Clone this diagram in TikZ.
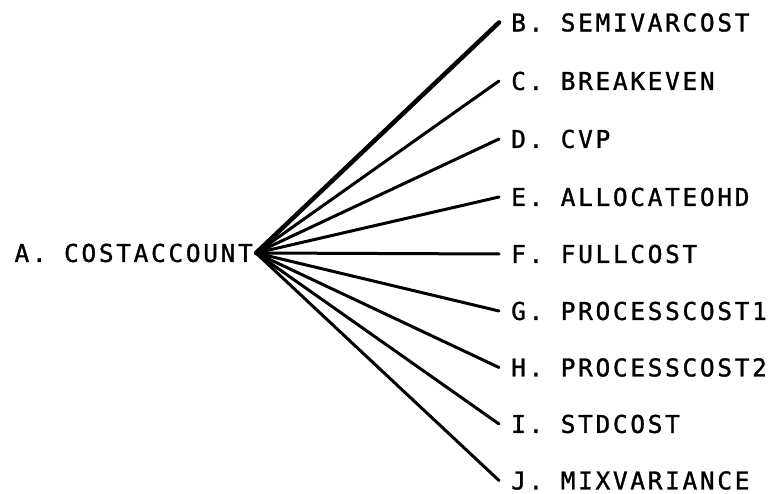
\documentclass[tikz,border=0pt]{standalone}
\usepackage{fontspec}
\newfontfamily\printfont[LetterSpace=10.8,FakeBold=1.2]{DejaVu Sans Mono}
\begin{document}
\begin{tikzpicture}[x=1pt,y=-1pt,
  lbl/.style={font=\printfont\fontsize{24.5}{24.5}\selectfont, inner ysep=0pt,
    text height=17.8pt, text depth=0pt},
  leaf/.style={lbl, anchor=west, inner xsep=12pt},
  spoke/.style={line width=3pt, line cap=round, line join=round},
  thick spoke/.style={line width=4.5pt, line cap=round, line join=round}]
\useasboundingbox (0,0) rectangle (771,494);
\fill[white] (0,0) rectangle (771,494);

% root of the fan
\node[lbl, anchor=east, inner xsep=3pt] (A) at (256,253) {A. COSTACCOUNT};

% leaves, evenly spaced down the right side
\node[leaf] (B) at (499,22.5)  {B. SEMIVARCOST};
\node[leaf] (C) at (499,81)    {C. BREAKEVEN};
\node[leaf] (D) at (499,139)   {D. CVP};
\node[leaf] (E) at (499,197)   {E. ALLOCATEOHD};
\node[leaf] (F) at (499,254)   {F. FULLCOST};
\node[leaf] (G) at (499,311)   {G. PROCESSCOST1};
\node[leaf] (H) at (499,367.5) {H. PROCESSCOST2};
\node[leaf] (I) at (499,424)   {I. STDCOST};
\node[leaf] (J) at (499,480.5) {J. MIXVARIANCE};

% spokes from the root to each leaf
\draw[thick spoke] (A.east) -- (B.west);
\foreach \n in {C,D,E,F,G,H,I,J}
  \draw[spoke] (A.east) -- (\n.west);
\end{tikzpicture}
\end{document}
